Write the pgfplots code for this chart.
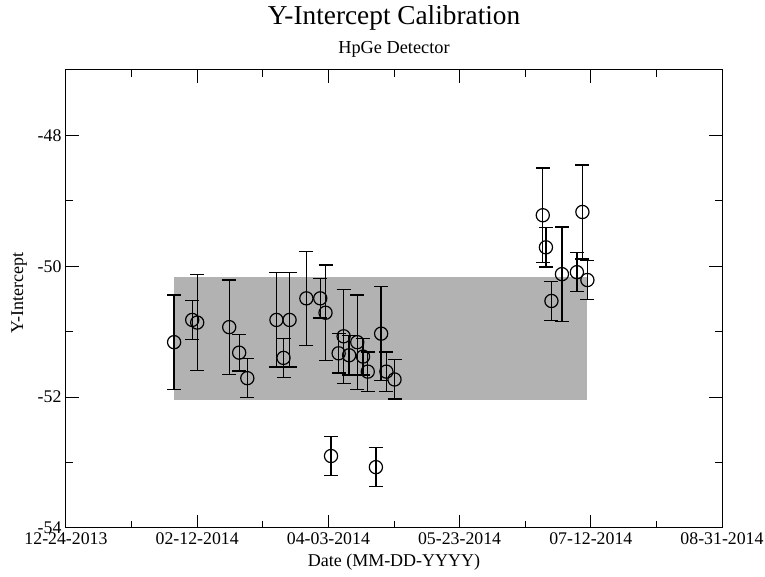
\documentclass[border=0pt]{standalone}
\usepackage{pgfplots}
\pgfplotsset{compat=1.18}
\usepackage{pgfplotstable}
\usepackage{fontspec}
\setmainfont{Liberation Serif}

\pgfplotstableread{
x y e
41.2 -51.16 0.72
48.1 -50.82 0.30
50.0 -50.86 0.73
62.2 -50.93 0.72
66.0 -51.32 0.28
69.1 -51.71 0.30
80.2 -50.82 0.72
82.9 -51.40 0.30
85.2 -50.82 0.72
91.6 -50.49 0.72
96.9 -50.49 0.30
98.9 -50.71 0.73
101.0 -52.90 0.30
103.9 -51.33 0.30
105.8 -51.07 0.72
107.9 -51.36 0.30
111.0 -51.16 0.72
113.2 -51.38 0.28
115.0 -51.61 0.30
118.1 -53.07 0.30
120.1 -51.03 0.72
122.1 -51.61 0.30
125.2 -51.73 0.30
181.7 -49.22 0.72
182.9 -49.71 0.30
185.0 -50.53 0.30
189.0 -50.12 0.72
194.7 -50.09 0.30
196.8 -49.17 0.72
198.7 -50.21 0.30
}\datatable

\pgfplotstableread{
x y
41.2 -52.05
198.4 -52.05
198.4 -50.17
41.2 -50.17
}\bandtable

\begin{document}
\begin{tikzpicture}
\path[use as bounding box] (-66pt,-49pt) rectangle (699pt,528pt);
\begin{axis}[
  at={(0pt,0pt)}, anchor=south west,
  scale only axis, width=656pt, height=458pt,
  xmin=0, xmax=250, ymin=-54, ymax=-47,
  xtick={0,50,100,150,200,250},
  xticklabels={12-24-2013,02-12-2014,04-03-2014,05-23-2014,07-12-2014,08-31-2014},
  minor xtick={25,75,125,175,225},
  ytick={-54,-52,-50,-48},
  yticklabels={-54,-52,-50,-48},
  minor ytick={-53,-51,-49},
  tick align=inside,
  major tick length=13pt, minor tick length=7pt,
  tick style={black, line width=1pt},
  axis line style={black, line width=1pt},
  ticklabel style={font=\fontsize{17.8}{20}\selectfont},
  xticklabel style={yshift=-1pt},
  yticklabel style={xshift=-1pt},
  xlabel={Date (MM-DD-YYYY)}, ylabel={Y-Intercept},
  xlabel style={font=\fontsize{18}{20}\selectfont, at={(axis description cs:0.5,0)}, anchor=base, yshift=-39pt},
  ylabel style={font=\fontsize{18}{20}\selectfont, at={(axis description cs:-0.0716,0.513)}, anchor=center},
  clip=false,
]
\addplot[fill=black!30, draw=none] table[x=x,y=y] {\bandtable} -- cycle;
\addplot[only marks, black, mark=o, mark size=6.6pt, mark options={line width=1.2pt, fill=none},
  error bars/.cd, y dir=both, y explicit,
  error bar style={line width=1.3pt, black},
  error mark options={rotate=90, mark size=7pt, line width=1.3pt, black}]
  table[x=x, y=y, y error=e] {\datatable};
\node[font=\fontsize{27.3}{30}\selectfont, anchor=base] at (rel axis cs:0.5,1) [yshift=45pt] {Y-Intercept Calibration};
\node[font=\fontsize{18.3}{20}\selectfont, anchor=base] at (rel axis cs:0.5,1) [yshift=16.7pt] {HpGe Detector};
\end{axis}
\end{tikzpicture}
\end{document}
